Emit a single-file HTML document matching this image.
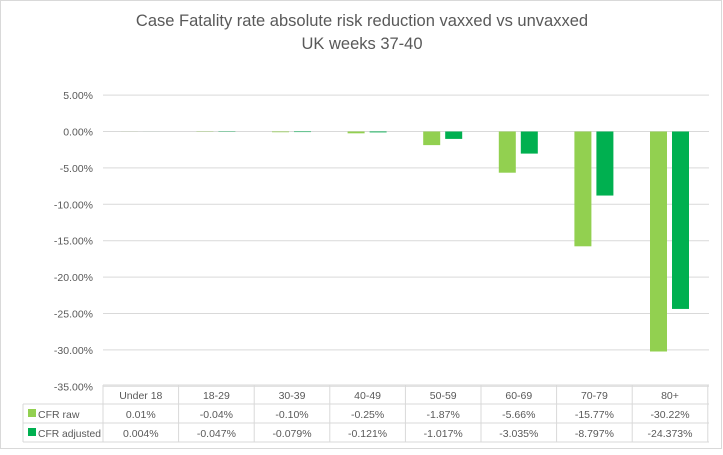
<!DOCTYPE html>
<html><head><meta charset="utf-8"><style>
body{margin:0;background:#fff;font-family:"Liberation Sans",sans-serif}
svg text{font-family:"Liberation Sans",sans-serif;fill:#595959}
</style></head><body>
<svg width="723" height="450">
<rect x="0.5" y="0.5" width="721" height="448" fill="#fff" stroke="#d9d9d9"/>
<text x="362" y="26" text-anchor="middle" font-size="16.5">Case Fatality rate absolute risk reduction vaxxed vs unvaxxed</text>
<text x="362" y="49" text-anchor="middle" font-size="16.5">UK weeks 37-40</text>
<g id="g"></g>
</svg>
<script>
const categories=["Under 18","18-29","30-39","40-49","50-59","60-69","70-79","80+"];
const rawValues=[0.01,-0.04,-0.10,-0.25,-1.87,-5.66,-15.77,-30.22];
const adjValues=[0.004,-0.047,-0.079,-0.121,-1.017,-3.035,-8.797,-24.373];
const rawLabels=["0.01%","-0.04%","-0.10%","-0.25%","-1.87%","-5.66%","-15.77%","-30.22%"];
const adjLabels=["0.004%","-0.047%","-0.079%","-0.121%","-1.017%","-3.035%","-8.797%","-24.373%"];
const yTicks=[5,0,-5,-10,-15,-20,-25,-30,-35];
const NS="http://www.w3.org/2000/svg",g=document.getElementById('g');
const x0=103,cw=75.6,y0=131.5,ppu=36.4/5;
const y=v=>y0-v*ppu;
function mk(t,a,txt){const e=document.createElementNS(NS,t);for(const k in a)e.setAttribute(k,a[k]);if(txt!=null)e.textContent=txt;g.appendChild(e);return e;}
yTicks.forEach(t=>{
 const l=mk('line',{x1:x0,x2:709,y1:y(t),y2:y(t),stroke:'#d9d9d9'});
 
 
 const tx=mk('text',{x:93,y:y(t)+4,'text-anchor':'end','font-size':10.5},t.toFixed(2)+'%');
 
 
});
categories.forEach((c,i)=>{
 const cx=x0+cw*(i+0.5);
 const r=rawValues[i],a=adjValues[i];
 const b1=mk('rect',{x:cx-20,width:17,y:Math.min(y(r),y0),height:Math.abs(y(r)-y0),fill:'#92d050'});
 
 
 const b2=mk('rect',{x:cx+2,width:17,y:Math.min(y(a),y0),height:Math.abs(y(a)-y0),fill:'#00b050'});
 
 
 const t0=mk('text',{x:cx,y:399,'text-anchor':'middle','font-size':10.5},c);
 
 
 const t1=mk('text',{x:cx,y:418,'text-anchor':'middle','font-size':10.5},rawLabels[i]);
 
 
 const t2=mk('text',{x:cx,y:437,'text-anchor':'middle','font-size':10.5},adjLabels[i]);
 
 
});
const tl=[[x0,385,709,385],[23,404,709,404],[23,423,709,423],[23,442,709,442],[23,404,23,442]];
for(let i=0;i<=8;i++)tl.push([x0+cw*i,385,x0+cw*i,442]);
tl.forEach(p=>{const l=mk('line',{x1:p[0],y1:p[1],x2:p[2],y2:p[3],stroke:'#d9d9d9'});
 
 });
const k1=mk('rect',{x:28,y:409,width:8,height:8,fill:'#92d050'});


const l1=mk('text',{x:38,y:418,'font-size':10.5},'CFR raw');


const k2=mk('rect',{x:28,y:428,width:8,height:8,fill:'#00b050'});


const l2=mk('text',{x:38,y:437,'font-size':10.5,textLength:63,lengthAdjust:'spacingAndGlyphs'},'CFR adjusted');


</script>
</body></html>
